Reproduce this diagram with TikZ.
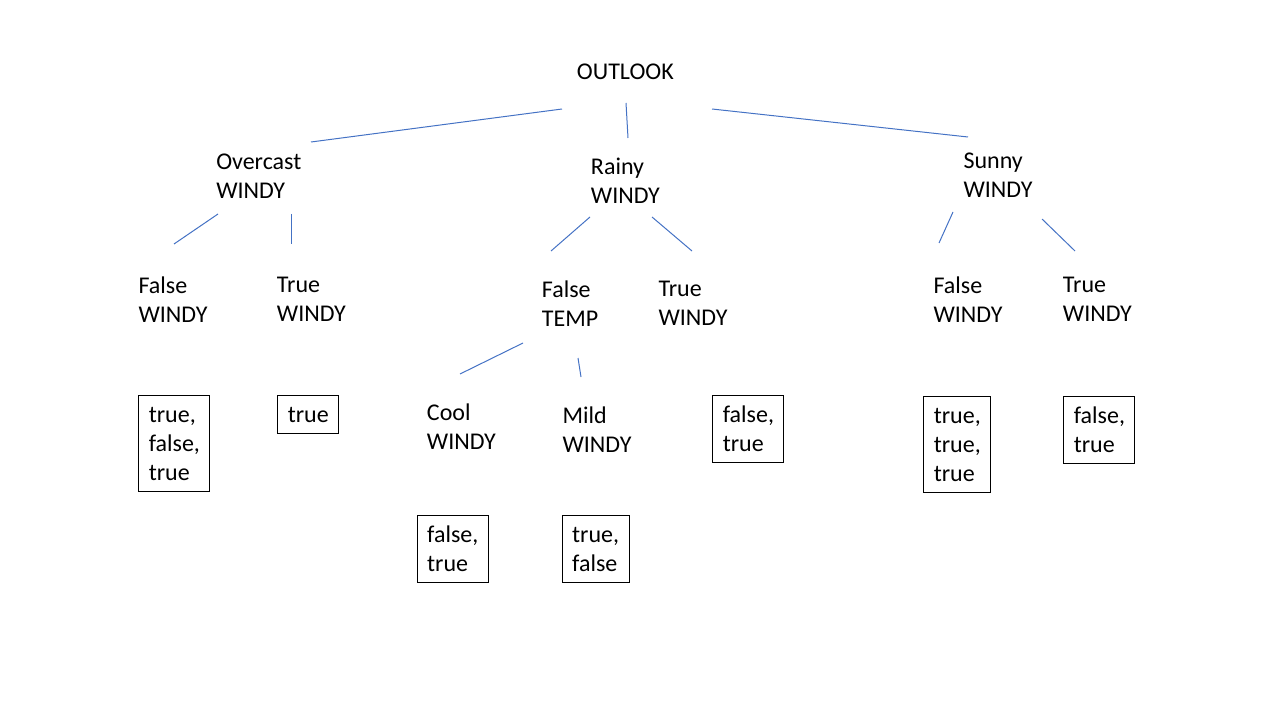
\documentclass[tikz,border=0pt]{standalone}
\usepackage{fontspec}
\setmainfont{Carlito}
\definecolor{linkblue}{HTML}{4472C4}
\begin{document}
\begin{tikzpicture}[x=0.75pt,y=-0.75pt,
  lbl/.style={inner sep=0pt, anchor=north west, align=left,
    font=\fontsize{18}{21.75}\selectfont, execute at begin node=\strut},
  leaf/.style={draw=black, line width=0.75pt, inner xsep=7.5pt, inner ysep=0pt,
    anchor=north west, align=left,
    font=\fontsize{18}{21.75}\selectfont,
    execute at begin node={\rule{0pt}{20.25pt}},
    execute at end node={\rule[-8.6pt]{0pt}{0pt}}},
  link/.style={draw=linkblue, line width=0.75pt}]
\useasboundingbox (0,0) rectangle (1280,720);
% tree labels
\node[lbl] (outlook) at (576.7,59) {OUTLOOK};
\node[lbl] (overcast) at (216,154) {Overcast\\WINDY};
\node[lbl] (rainy) at (590.7,158) {Rainy\\WINDY};
\node[lbl] (sunny) at (963.3,153) {Sunny\\WINDY};
\node[lbl] (ofalse) at (138.3,276.4) {False\\WINDY};
\node[lbl] (otrue) at (276.7,276.4) {True\\WINDY};
\node[lbl] (rfalse) at (541.7,280.7) {False\\TEMP};
\node[lbl] (rtrue) at (658.3,280.7) {True\\WINDY};
\node[lbl] (sfalse) at (933.3,276.4) {False\\WINDY};
\node[lbl] (strue) at (1062.7,276.4) {True\\WINDY};
\node[lbl] (cool) at (426.7,403.5) {Cool\\WINDY};
\node[lbl] (mild) at (562.3,406.9) {Mild\\WINDY};
% leaves
\node[leaf, text width=38.25pt] (b1) at (138.3,395) {true,\\false,\\true};
\node[leaf, text width=30.75pt] (b2) at (277.3,395) {true};
\node[leaf, text width=38.25pt] (b3) at (712.3,395) {false,\\true};
\node[leaf, text width=35.25pt] (b4) at (923.3,396) {true,\\true,\\true};
\node[leaf, text width=38.25pt] (b5) at (1063.3,396) {false,\\true};
\node[leaf, text width=38.25pt] (b6) at (416.7,515) {false,\\true};
\node[leaf, text width=35.25pt] (b7) at (561.7,515) {true,\\false};
% connector end points
\coordinate (l1a) at (562,109); \coordinate (l1b) at (311,142);
\coordinate (l2a) at (626,103); \coordinate (l2b) at (628,138);
\coordinate (l3a) at (712,109); \coordinate (l3b) at (968,137);
\coordinate (l4a) at (218,214); \coordinate (l4b) at (174,244);
\coordinate (l5a) at (291,214); \coordinate (l5b) at (291,244);
\coordinate (l6a) at (590,217); \coordinate (l6b) at (551,251);
\coordinate (l7a) at (652,217); \coordinate (l7b) at (692,251);
\coordinate (l8a) at (953,212); \coordinate (l8b) at (939,243);
\coordinate (l9a) at (1042,219); \coordinate (l9b) at (1075,251);
\coordinate (l10a) at (523,343); \coordinate (l10b) at (460,374);
\coordinate (l11a) at (578,358); \coordinate (l11b) at (581,377);
\foreach \i in {1,...,11} {\draw[link] (l\i a) -- (l\i b);}
\end{tikzpicture}
\end{document}
